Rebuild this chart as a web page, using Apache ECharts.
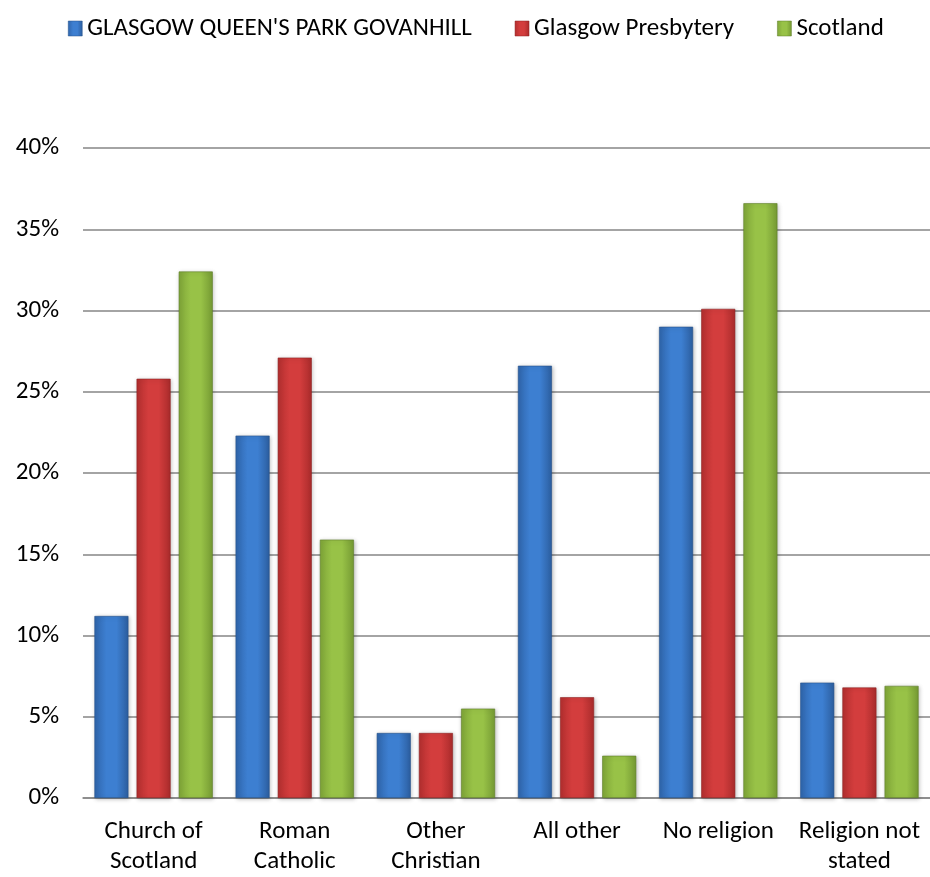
<!DOCTYPE html>
<html>
<head>
<meta charset="utf-8">
<script src="https://cdn.jsdelivr.net/npm/echarts@6/dist/echarts.min.js"></script>
<style>
html,body{margin:0;padding:0;background:#fff;}
#chart{width:930px;height:877px;}
</style>
</head>
<body>
<div id="chart"></div>
<script>
const categories = ['Church of\nScotland', 'Roman\nCatholic', 'Other\nChristian', 'All other', 'No religion', 'Religion not\nstated'];
const seriesNames = ["GLASGOW QUEEN'S PARK GOVANHILL", 'Glasgow Presbytery', 'Scotland'];
const govanhill = [11.2, 22.3, 4.0, 26.6, 29.0, 7.1];
const presbytery = [25.8, 27.1, 4.0, 6.2, 30.1, 6.8];
const scotland = [32.4, 15.9, 5.5, 2.6, 36.6, 6.9];
const yTicks = [0, 5, 10, 15, 20, 25, 30, 35, 40];

const FONT = 'Carlito, Lato, "Open Sans", sans-serif';

function grad(edgeL, mid, edgeR) {
  return new echarts.graphic.LinearGradient(0, 0, 1, 0, [
    {offset: 0, color: edgeL},
    {offset: 0.35, color: mid},
    {offset: 0.65, color: mid},
    {offset: 1, color: edgeR}
  ]);
}
const palettes = [
  {fill: grad('#2f65ab', '#3d7fd1', '#2c5e9f'), border: '#25508a'},
  {fill: grad('#b32f2f', '#d33d3d', '#a92b2b'), border: '#8e2222'},
  {fill: grad('#7fa538', '#98c247', '#759a33'), border: '#5e7d28'}
];
const dataSets = [govanhill, presbytery, scotland];

const chart = echarts.init(document.getElementById('chart'), null, {renderer: 'canvas'});
chart.setOption({
  animation: false,
  backgroundColor: '#ffffff',
  textStyle: {fontFamily: FONT},
  legend: {
    top: 11,
    left: 63,
    itemWidth: 14,
    itemHeight: 15,
    itemGap: 43,
    textStyle: {fontFamily: FONT, fontSize: 25, color: '#000'},
    data: seriesNames.map((n, i) => ({name: n, icon: 'rect', itemStyle: {color: palettes[i].fill, borderColor: palettes[i].border, borderWidth: 0.5}}))
  },
  grid: {left: 83, top: 148, width: 852, bottom: 73, containLabel: false},
  xAxis: {
    type: 'category',
    data: categories,
    axisLine: {show: true, lineStyle: {color: '#868686', width: 1.5}},
    axisTick: {show: false},
    axisLabel: {fontFamily: FONT, fontSize: 25, color: '#000', lineHeight: 30, margin: 19, interval: 0}
  },
  yAxis: {
    type: 'value',
    min: yTicks[0],
    max: yTicks[yTicks.length - 1],
    interval: 5,
    axisLine: {show: false},
    axisTick: {show: false},
    axisLabel: {fontFamily: FONT, fontSize: 25, color: '#000', margin: 24, formatter: v => v + '%'},
    splitLine: {lineStyle: {color: '#868686', width: 1.5}}
  },
  series: dataSets.map((d, i) => ({
    name: seriesNames[i],
    type: 'bar',
    data: d,
    barWidth: 34,
    barGap: '24%',
    itemStyle: {
      color: palettes[i].fill,
      borderColor: palettes[i].border,
      borderWidth: 0.6,
      shadowColor: 'rgba(0,0,0,0.25)',
      shadowBlur: 4,
      shadowOffsetX: 1,
      shadowOffsetY: 1
    }
  }))
});
</script>
</body>
</html>
